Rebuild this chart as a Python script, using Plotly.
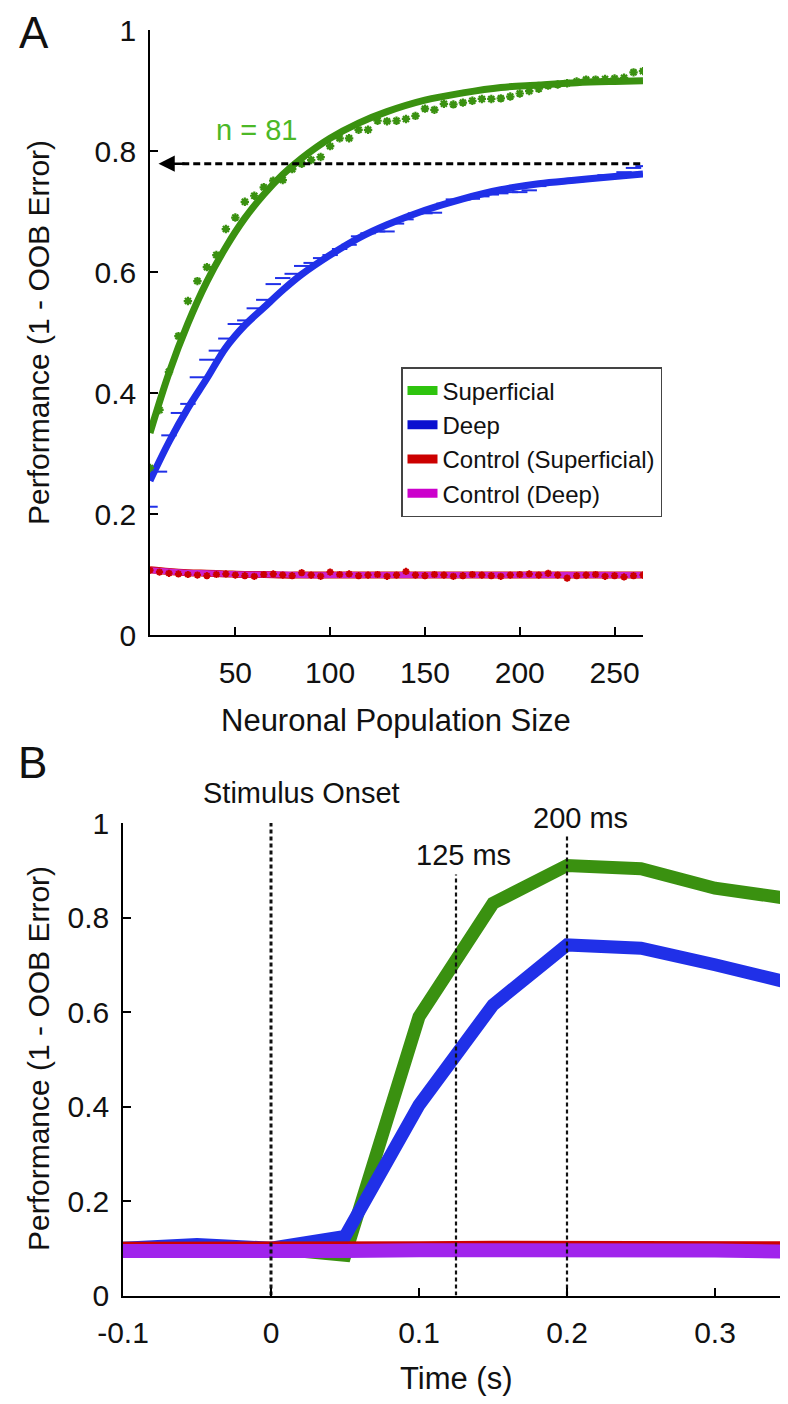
import plotly.graph_objects as go

W, H = 788, 1404
FONT = "Liberation Sans"

# ---------------- Panel A data ----------------
pop_sizes = list(range(5, 266, 5))
superficial_pts = [0.276, 0.372, 0.435, 0.494, 0.552, 0.585, 0.608, 0.628, 0.671, 0.690,
                   0.716, 0.726, 0.740, 0.751, 0.752, 0.770, 0.779, 0.785, 0.790, 0.808,
                   0.821, 0.821, 0.835, 0.835, 0.850, 0.849, 0.850, 0.853, 0.858, 0.870,
                   0.868, 0.878, 0.877, 0.880, 0.883, 0.886, 0.886, 0.887, 0.890, 0.895,
                   0.899, 0.903, 0.908, 0.910, 0.912, 0.915, 0.918, 0.918, 0.919, 0.920,
                   0.921, 0.930, 0.932]
deep_pts = [0.212, 0.270, 0.330, 0.367, 0.382, 0.426, 0.455, 0.470, 0.490, 0.514,
            0.520, 0.540, 0.554, 0.580, 0.590, 0.597, 0.610, 0.615, 0.623, 0.628,
            0.638, 0.645, 0.659, 0.664, 0.667, 0.667, 0.680, 0.687, 0.697, 0.697,
            0.698, 0.713, 0.720, 0.720, 0.721, 0.725, 0.728, 0.730, 0.732, 0.732,
            0.735, 0.742, 0.748, 0.750, 0.752, 0.750, 0.752, 0.757, 0.760, 0.760,
            0.765, 0.772, 0.775]
control_sup_pts = [0.107, 0.104, 0.102, 0.101, 0.100, 0.099, 0.098, 0.100, 0.101, 0.099,
                   0.098, 0.097, 0.100, 0.101, 0.099, 0.098, 0.103, 0.099, 0.097, 0.104,
                   0.100, 0.101, 0.098, 0.099, 0.100, 0.097, 0.099, 0.105, 0.099, 0.098,
                   0.100, 0.099, 0.097, 0.098, 0.100, 0.099, 0.098, 0.097, 0.099, 0.100,
                   0.101, 0.099, 0.102, 0.099, 0.094, 0.098, 0.099, 0.100, 0.097, 0.098,
                   0.096, 0.098, 0.099]

fit_x = [5, 15, 25, 35, 45, 55, 65, 75, 85, 100, 115, 130, 150, 170, 190, 210, 230, 250, 265]
superficial_fit = [0.334, 0.433, 0.515, 0.584, 0.641, 0.689, 0.728, 0.761, 0.788, 0.821,
                   0.846, 0.865, 0.884, 0.896, 0.905, 0.909, 0.913, 0.915, 0.916]
deep_fit = [0.255, 0.319, 0.375, 0.424, 0.475, 0.512, 0.541, 0.570, 0.596, 0.628,
            0.656, 0.678, 0.702, 0.721, 0.736, 0.746, 0.752, 0.758, 0.762]
control_sup_fit = [0.108, 0.105, 0.103, 0.102, 0.101, 0.100, 0.100, 0.099, 0.099, 0.099,
                   0.099, 0.099, 0.099, 0.099, 0.099, 0.099, 0.099, 0.099, 0.099]
control_deep_fit = [0.107, 0.105, 0.103, 0.102, 0.101, 0.100, 0.100, 0.100, 0.099, 0.099,
                    0.099, 0.099, 0.099, 0.099, 0.099, 0.099, 0.099, 0.099, 0.099]

n_level = 0.779
n_text = "n = 81"
legend_names = ["Superficial", "Deep", "Control (Superficial)", "Control (Deep)"]

# ---------------- Panel B data ----------------
times = [-0.1, -0.05, 0.0, 0.05, 0.1, 0.15, 0.2, 0.25, 0.3, 0.35]
superficial_t = [0.100, 0.100, 0.100, 0.085, 0.590, 0.830, 0.910, 0.903, 0.862, 0.840]
deep_t = [0.100, 0.108, 0.100, 0.125, 0.403, 0.615, 0.742, 0.735, 0.700, 0.662]
control_sup_t = [0.101, 0.100, 0.102, 0.101, 0.102, 0.103, 0.102, 0.103, 0.102, 0.102]
control_deep_t = [0.094, 0.092, 0.094, 0.094, 0.096, 0.097, 0.091, 0.099, 0.095, 0.093]

event_times = [0.0, 0.125, 0.2]
event_tops = [1.016, 0.891, 0.976]
event_labels = ["Stimulus Onset", "125 ms", "200 ms"]

GREEN = "#3a9110"
BLUE = "#2030e8"
RED = "#cc0000"
MAGENTA = "#cc22cc"
PURPLE = "#a024ec"
LEG_COLORS = ["#2ec40e", "#0a10d0", "#cc0000", "#cc00cc"]

fig = go.Figure()

# Panel A fits and points
fig.add_trace(go.Scatter(x=fit_x, y=superficial_fit, mode="lines", line=dict(color=GREEN, width=7, shape="spline"),
                         xaxis="x", yaxis="y", showlegend=False))
fig.add_trace(go.Scatter(x=fit_x, y=deep_fit, mode="lines", line=dict(color=BLUE, width=7, shape="spline"),
                         xaxis="x", yaxis="y", showlegend=False))
fig.add_trace(go.Scatter(x=pop_sizes, y=superficial_pts, mode="markers",
                         marker=dict(symbol="asterisk-open", size=7, color=GREEN, line=dict(color=GREEN, width=2.2)),
                         xaxis="x", yaxis="y", showlegend=False))
fig.add_trace(go.Scatter(x=pop_sizes, y=deep_pts, mode="markers",
                         marker=dict(symbol="line-ew-open", size=11, color=BLUE, line=dict(color=BLUE, width=2)),
                         xaxis="x", yaxis="y", showlegend=False))
fig.add_trace(go.Scatter(x=fit_x, y=control_sup_fit, mode="lines", line=dict(color=RED, width=7, shape="spline"),
                         xaxis="x", yaxis="y", showlegend=False))
fig.add_trace(go.Scatter(x=fit_x, y=control_deep_fit, mode="lines", line=dict(color=MAGENTA, width=6, shape="spline"),
                         xaxis="x", yaxis="y", showlegend=False))
fig.add_trace(go.Scatter(x=pop_sizes, y=control_sup_pts, mode="markers",
                         marker=dict(symbol="asterisk-open", size=6, color=RED, line=dict(color=RED, width=2)),
                         xaxis="x", yaxis="y", showlegend=False))

# arrow: dashed line
fig.add_trace(go.Scatter(x=[22, 265], y=[n_level, n_level], mode="lines",
                         line=dict(color="black", width=3, dash="7px,4px"),
                         xaxis="x", yaxis="y", showlegend=False))

# legend entries
for name, col in zip(legend_names, LEG_COLORS):
    fig.add_trace(go.Scatter(x=[None], y=[None], mode="lines", name=name,
                             line=dict(color=col, width=9), xaxis="x", yaxis="y"))

# Panel B
for ys, col, w in [(superficial_t, GREEN, 13), (deep_t, BLUE, 13),
                   (control_sup_t, RED, 12), (control_deep_t, PURPLE, 14)]:
    fig.add_trace(go.Scatter(x=times, y=ys, mode="lines", line=dict(color=col, width=w),
                             xaxis="x2", yaxis="y2", showlegend=False))

for t, top, wd in zip(event_times, event_tops, [3, 2.2, 2.2]):
    fig.add_trace(go.Scatter(x=[t, t], y=[0, top], mode="lines",
                             line=dict(color="#111111", width=wd, dash="4px,3px"),
                             xaxis="x2", yaxis="y2", showlegend=False))

# ---------------- layout ----------------
def px_x(p):
    return p / W

def px_y(p):
    return 1 - p / H

axis_common = dict(showline=True, linecolor="black", linewidth=1.6, ticks="inside", ticklen=8,
                   tickwidth=1.6, tickcolor="black", showgrid=False, zeroline=False,
                   tickfont=dict(family=FONT, size=30, color="#111111"), mirror=False,
                   automargin=False)

fig.update_layout(
    width=W, height=H, margin=dict(l=0, r=0, t=0, b=0, autoexpand=False),
    paper_bgcolor="white", plot_bgcolor="white",
    xaxis=dict(domain=[px_x(142), px_x(635)], range=[5, 265], anchor="y",
               tickvals=[50, 100, 150, 200, 250], ticklabelstandoff=10, **axis_common),
    yaxis=dict(domain=[px_y(627), px_y(22)], range=[0, 1], anchor="x",
               tickvals=[0, 0.2, 0.4, 0.6, 0.8, 1], ticktext=["0", "0.2", "0.4", "0.6", "0.8", "1"],
               ticklabelstandoff=6, **axis_common),
    xaxis2=dict(domain=[px_x(115), px_x(781)], range=[-0.1, 0.35], anchor="y2",
                tickvals=[-0.1, 0, 0.1, 0.2, 0.3], ticktext=["-0.1", "0", "0.1", "0.2", "0.3"],
                ticklabelstandoff=10, **axis_common),
    yaxis2=dict(domain=[px_y(1287.5), px_y(815)], range=[0, 1], anchor="x2",
                tickvals=[0, 0.2, 0.4, 0.6, 0.8, 1], ticktext=["0", "0.2", "0.4", "0.6", "0.8", "1"],
                ticklabelstandoff=6, **axis_common),
    legend=dict(x=px_x(393), y=px_y(359), xanchor="left", yanchor="top",
                bordercolor="#444444", borderwidth=1.5, bgcolor="white",
                font=dict(family=FONT, size=24, color="#111111"),
                tracegroupgap=0),
    showlegend=True,
)

def note(text, x, y, size=30, angle=0, color="#111111"):
    return dict(text=text, x=px_x(x), y=px_y(y), xref="paper", yref="paper", showarrow=False,
                xanchor="center", yanchor="middle", textangle=angle,
                font=dict(family=FONT, size=size, color=color))

annotations = [
    note("A", 26, 24, size=44),
    note("B", 24, 754, size=44),
    note("Performance (1 - OOB Error)", 30, 325, angle=-90),
    note("Performance (1 - OOB Error)", 30, 1051, angle=-90),
    note("Neuronal Population Size", 388, 712, size=31),
    note("Time (s)", 448, 1370, size=31),
    dict(text=n_text, x=61, y=0.835, xref="x", yref="y", showarrow=False,
         xanchor="center", yanchor="middle",
         font=dict(family=FONT, size=29, color="#4cb827")),
    dict(text="", x=9.5, y=n_level, ax=24, ay=n_level, xref="x", yref="y", axref="x", ayref="y",
         showarrow=True, arrowhead=2, arrowsize=1.3, arrowwidth=2.5, arrowcolor="black"),
    note(event_labels[0], 293, 785, size=29),
    note(event_labels[1], 456, 847, size=29),
    note(event_labels[2], 572, 810, size=29),
]
fig.update_layout(annotations=annotations)

fig.write_html("out.html")
